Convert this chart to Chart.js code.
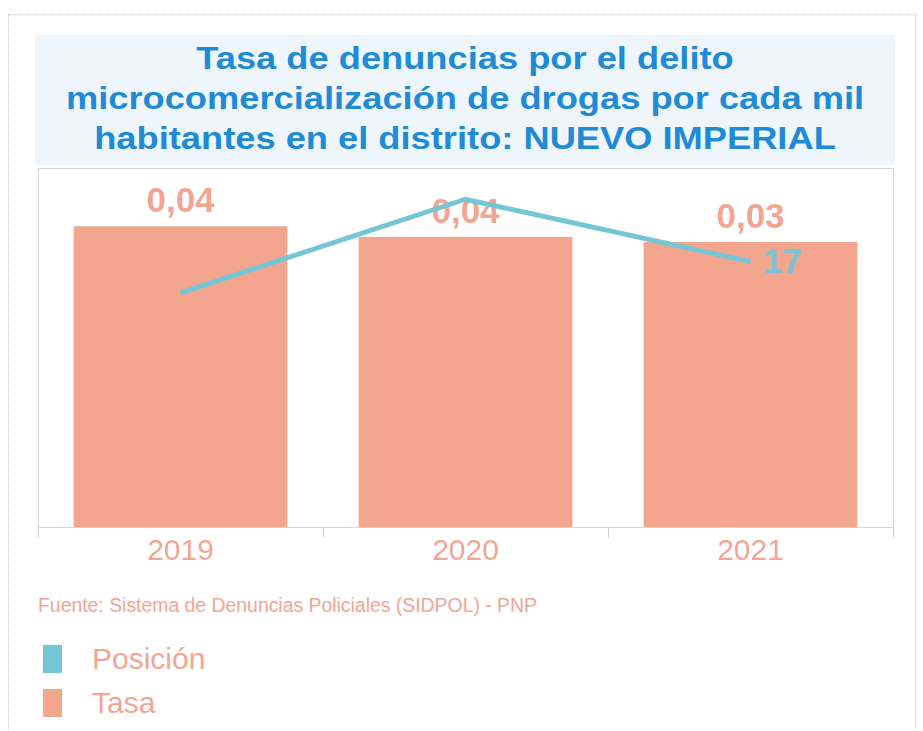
<!DOCTYPE html>
<html>
<head>
<meta charset="utf-8">
<script src="https://cdn.jsdelivr.net/npm/chart.js@4.4.1/dist/chart.umd.min.js"></script>
<style>
  html, body { margin: 0; padding: 0; background: #fff; }
  body { width: 923px; height: 731px; position: relative; overflow: hidden; font-family: "Liberation Sans", Arial, sans-serif; }
  #frame { position: absolute; left: 8px; top: 14px; width: 906px; height: 740px; border: 1px dotted #c8c8c8; }
  #titulo { position: absolute; left: 35px; top: 35px; width: 860px; height: 130px; background: #eef6fc; }
  #titulo div { color: #1f8ad6; font-weight: bold; font-size: 31px; line-height: 40px; text-align: center;
                padding-top: 4px; transform: scaleX(1.17); transform-origin: 50% 0; }
  #wrap { position: absolute; left: 0; top: 160px; width: 923px; height: 420px; }
  #fuente { position: absolute; left: 38px; top: 594px; color: #f2a593; font-size: 19.4px; }
  .leg { position: absolute; left: 43px; height: 28px; color: #f2a593; font-size: 30px; line-height: 28px; }
  .leg span { display: inline-block; width: 19px; height: 28px; vertical-align: top; margin-right: 30px; }
</style>
</head>
<body>
<div id="frame"></div>
<div id="titulo"><div>Tasa de denuncias por el delito<br>microcomercialización de drogas por cada mil<br>habitantes en el distrito: NUEVO IMPERIAL</div></div>
<div id="wrap"><canvas id="grafico"></canvas></div>
<div id="fuente">Fuente: Sistema de Denuncias Policiales (SIDPOL) - PNP</div>
<div class="leg" style="top:645px"><span style="background:#74c6d4"></span>Posición</div>
<div class="leg" style="top:689px"><span style="background:#f4a58e"></span>Tasa</div>
<script>
// datos
const anios = ['2019', '2020', '2021'];
const tasa = [0.0419, 0.0404, 0.0397];
const tasaEtiquetas = ['0,04', '0,04', '0,03'];
const posicion = [19, 13, 17];
const posicionEtiquetas = ['', '', '17'];

const colorBarra = '#f4a58e';
const colorLinea = '#74c6d4';
const colorTexto = '#f2a593';

// marco del área de trazado y etiquetas de valores
const etiquetas = {
  id: 'etiquetas',
  beforeDatasetsDraw(chart) {
    const a = chart.chartArea;
    const ctx = chart.ctx;
    ctx.save();
    ctx.strokeStyle = '#d6d6d6';
    ctx.lineWidth = 1;
    ctx.strokeRect(a.left + 0.5, a.top + 0.5, a.right - a.left, a.bottom - a.top);
    ctx.restore();
  },
  afterDatasetDraw(chart, args) {
    if (args.index !== 0) return;
    const ctx = chart.ctx;
    ctx.save();
    ctx.font = 'bold 35px "Liberation Sans", Arial, sans-serif';
    ctx.fillStyle = colorTexto;
    ctx.textAlign = 'center';
    ctx.textBaseline = 'bottom';
    chart.getDatasetMeta(0).data.forEach((bar, i) => {
      ctx.fillText(tasaEtiquetas[i], bar.x, bar.y - 6);
    });
    ctx.restore();
  },
  afterDatasetsDraw(chart) {
    const ctx = chart.ctx;
    ctx.save();
    ctx.font = 'bold 35px "Liberation Sans", Arial, sans-serif';
    ctx.fillStyle = colorLinea;
    ctx.textAlign = 'left';
    ctx.textBaseline = 'middle';
    chart.getDatasetMeta(1).data.forEach((pt, i) => {
      ctx.fillText(posicionEtiquetas[i], pt.x + 13, pt.y + 2);
    });
    ctx.restore();
  }
};

new Chart(document.getElementById('grafico'), {
  type: 'bar',
  data: {
    labels: anios,
    datasets: [
      {
        label: 'Tasa',
        data: tasa,
        backgroundColor: colorBarra,
        yAxisID: 'y',
        order: 2,
        barPercentage: 1,
        categoryPercentage: 0.75
      },
      {
        type: 'line',
        label: 'Posición',
        data: posicion,
        borderColor: colorLinea,
        borderWidth: 5,
        pointRadius: 0,
        tension: 0,
        yAxisID: 'pos',
        order: 1
      }
    ]
  },
  options: {
    responsive: true,
    maintainAspectRatio: false,
    animation: false,
    layout: { padding: { left: 38, right: 30, top: 8, bottom: 14 } },
    plugins: {
      legend: { display: false },
      tooltip: { enabled: false }
    },
    scales: {
      x: {
        grid: { drawOnChartArea: false, tickLength: 11, color: '#cfcfcf' },
        border: { color: '#cfcfcf' },
        offset: true,
        ticks: {
          color: colorTexto,
          font: { size: 30, family: '"Liberation Sans", Arial, sans-serif' },
          padding: -4
        }
      },
      y: { display: false, min: 0, max: 0.05 },
      pos: { display: false, reverse: true, min: 11, max: 34 }
    }
  },
  plugins: [etiquetas]
});
</script>
</body>
</html>
